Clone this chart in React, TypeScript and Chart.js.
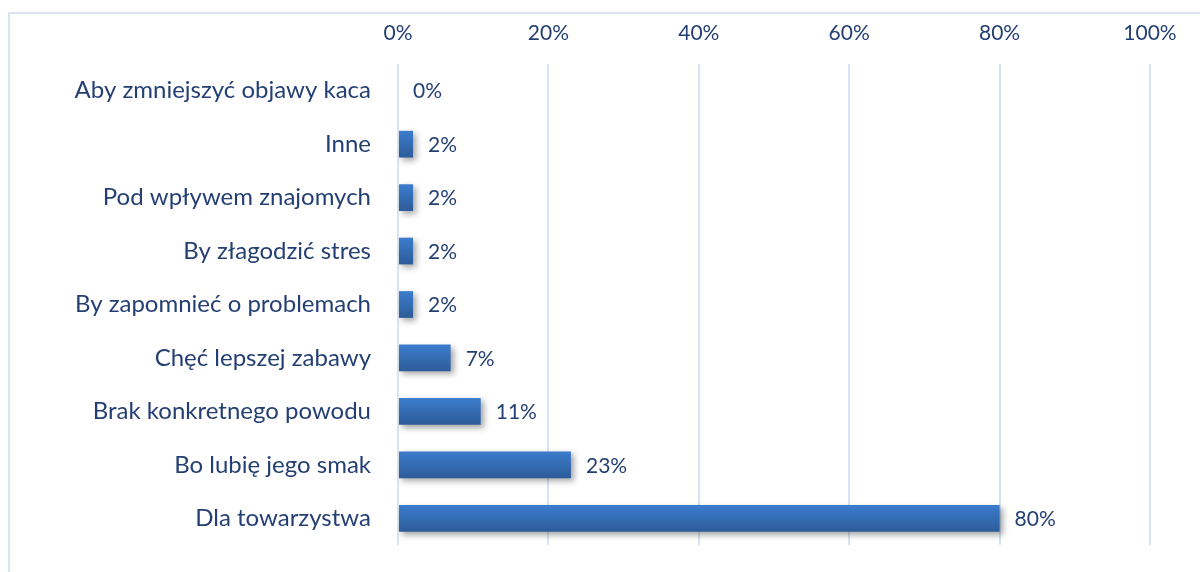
import React, { useEffect, useRef } from "react";
import { Chart, registerables } from "chart.js";

Chart.register(...registerables);

const categories = [
  "Aby zmniejszyć objawy kaca",
  "Inne",
  "Pod wpływem znajomych",
  "By złagodzić stres",
  "By zapomnieć o problemach",
  "Chęć lepszej zabawy",
  "Brak konkretnego powodu",
  "Bo lubię jego smak",
  "Dla towarzystwa",
];
const values = [0, 2, 2, 2, 2, 7, 11, 23, 80];
const tickValues = [0, 20, 40, 60, 80, 100];

const TEXT = "#243f73";
const FONT = "Lato";

export default function App() {
  const ref = useRef<HTMLCanvasElement | null>(null);

  useEffect(() => {
    if (!ref.current) return;
    const labelPlugin = {
      id: "valueLabels",
      beforeDatasetDraw(chart: any) {
        const ctx = chart.ctx;
        ctx.save();
        ctx.shadowColor = "rgba(0,0,0,0.35)";
        ctx.shadowBlur = 6;
        ctx.shadowOffsetX = 3;
        ctx.shadowOffsetY = 3;
      },
      afterDatasetDraw(chart: any) {
        chart.ctx.restore();
      },
      afterDatasetsDraw(chart: any) {
        const ctx = chart.ctx;
        const meta = chart.getDatasetMeta(0);
        ctx.save();
        ctx.font = `21px ${FONT}`;
        ctx.fillStyle = TEXT;
        ctx.textAlign = "left";
        ctx.textBaseline = "middle";
        meta.data.forEach((el: any, i: number) => {
          ctx.fillText(values[i] + "%", el.x + 15, el.y + 1);
        });
        ctx.restore();
      },
    };

    const chart = new Chart(ref.current, {
      type: "bar",
      data: {
        labels: categories,
        datasets: [
          {
            data: values,
            barPercentage: 1,
            categoryPercentage: 0.5,
            borderWidth: 0,
            backgroundColor: (c: any) => {
              const ch = c.chart;
              const y = ch.scales && ch.scales.y;
              if (!y || c.dataIndex === undefined) return "#3670b8";
              const cy = y.getPixelForValue(c.dataIndex);
              if (!isFinite(cy)) return "#3670b8";
              const g = ch.ctx.createLinearGradient(0, cy - 13.5, 0, cy + 13.5);
              g.addColorStop(0, "#3c7dcd");
              g.addColorStop(1, "#2c5b99");
              return g;
            },
          },
        ],
      },
      options: {
        indexAxis: "y",
        responsive: false,
        animation: false,
        devicePixelRatio: 1,
        layout: { padding: { left: 0, top: 0, right: 50, bottom: 27 } },
        plugins: {
          legend: { display: false },
          tooltip: { enabled: false },
        },
        scales: {
          x: {
            type: "linear",
            position: "top",
            min: 0,
            max: 100,
            afterFit: (s: any) => {
              s.height = 64;
            },
            afterBuildTicks: (s: any) => {
              s.ticks = tickValues.map((v) => ({ value: v }));
            },
            ticks: {
              callback: (v: any) => v + "%",
              color: TEXT,
              font: { family: FONT, size: 21 },
              padding: 18,
              maxRotation: 0,
            },
            grid: { color: "#d9e4f2", lineWidth: 2, drawTicks: false },
            border: { display: false },
          },
          y: {
            type: "category",
            afterFit: (s: any) => {
              s.width = 398;
              s.paddingTop = 0;
              s.paddingBottom = 0;
            },
            ticks: {
              color: TEXT,
              font: { family: FONT, size: 24 },
              padding: 27,
            },
            grid: { display: false, drawTicks: false },
            border: { display: false },
          },
        },
      },
      plugins: [labelPlugin],
    } as any);
    return () => chart.destroy();
  }, []);

  return (
    <div
      style={{
        position: "fixed",
        left: 0,
        top: 0,
        width: 1200,
        height: 572,
        overflow: "hidden",
        background: "#fff",
      }}
    >
      <div
        style={{
          position: "absolute",
          left: 8,
          top: 12,
          width: 1300,
          height: 700,
          border: "2px solid #dae4f2",
        }}
      />
      <div style={{ position: "absolute", left: 0, top: 0, width: 1200, height: 572 }}>
        <canvas ref={ref} width={1200} height={572} style={{ display: "block" }} />
      </div>
    </div>
  );
}
